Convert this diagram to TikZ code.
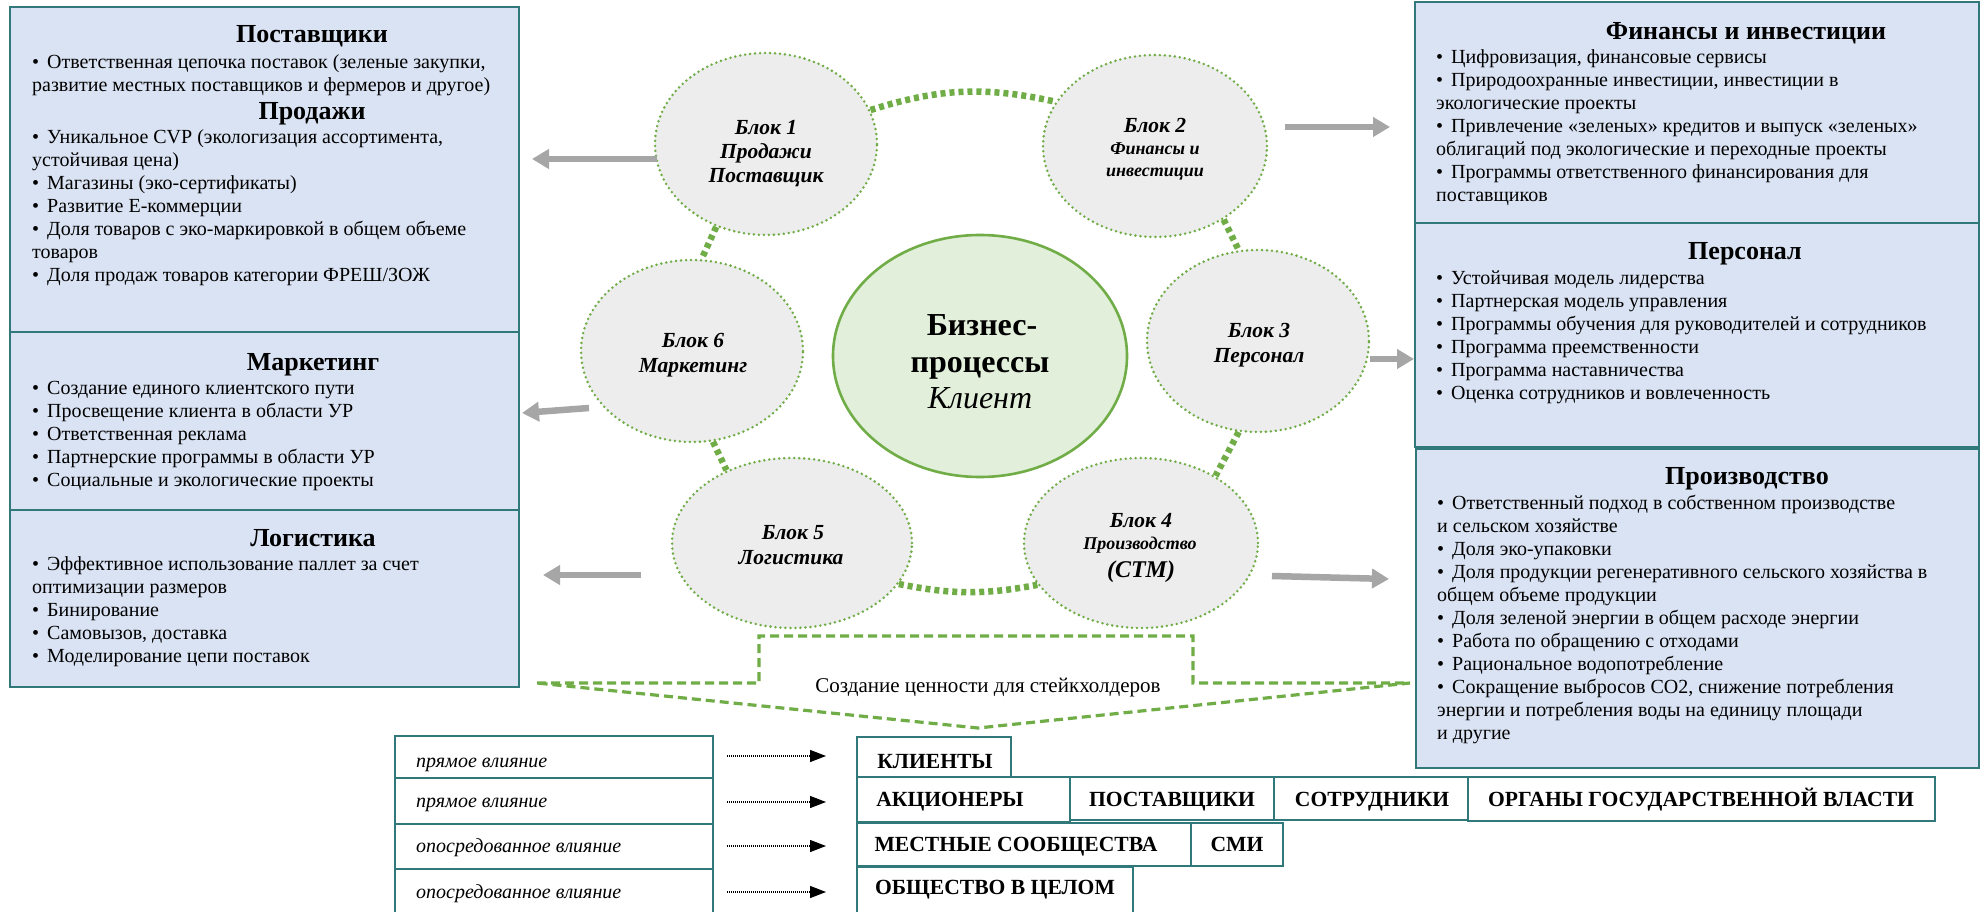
\documentclass[tikz,border=0pt]{standalone}
\usepackage{fontspec}
\setmainfont{Liberation Serif}
\usetikzlibrary{shapes.geometric,arrows.meta,fit}
\definecolor{boxfill}{HTML}{DAE3F3}
\definecolor{boxline}{HTML}{31787A}
\definecolor{grn}{HTML}{70AD47}
\definecolor{ellfill}{HTML}{EDEDED}
\definecolor{corefill}{HTML}{E2EFDA}
\definecolor{arrgray}{HTML}{A6A6A6}
\newcommand{\bul}{\textbullet\hspace{8pt}}
\begin{document}
\begin{tikzpicture}[x=1pt,y=-1pt,
  bluebox/.style={rectangle, draw=boxline, fill=boxfill, line width=2.2pt, inner sep=0pt},
  tabbox/.style={rectangle, draw=boxline, fill=white, line width=2pt, inner sep=0pt},
  blk/.style={ellipse, draw=grn, fill=ellfill, line width=2.8pt, dash pattern=on 0pt off 5pt, line cap=round, inner sep=0pt},
  core/.style={ellipse, draw=grn, fill=corefill, line width=2.6pt, inner sep=0pt},
  gconn/.style={draw=grn, line width=6.5pt, dash pattern=on 5pt off 4pt},
  garrow/.style={draw=arrgray, line width=6.5pt, -{Triangle[length=17pt,width=19pt]}},
  brk/.style={draw=grn, line width=3.2pt, dash pattern=on 9pt off 5pt},
  sarr/.style={draw=black, line width=1.3pt, dash pattern=on 1pt off 1pt, -{Triangle[length=16pt,width=12pt]}},
  head/.style={anchor=base, inner sep=0pt, font=\fontsize{26}{30}\selectfont\bfseries},
  body/.style={anchor=north west, inner sep=0pt, align=left, font=\fontsize{20}{23}\selectfont},
  blkt/.style={anchor=base, inner sep=0pt, font=\fontsize{21.5}{25}\selectfont\bfseries\itshape},
  blks/.style={anchor=base, inner sep=0pt, font=\fontsize{18}{22}\selectfont\bfseries\itshape},
  stk/.style={anchor=base, inner sep=0pt, font=\fontsize{21.6}{25}\selectfont\bfseries},
  infl/.style={anchor=base west, inner sep=0pt, font=\fontsize{20}{24}\selectfont\itshape},
  note/.style={anchor=base, inner sep=0pt, font=\fontsize{21}{25}\selectfont}
]
\useasboundingbox (0,0) rectangle (1982,912);
\fill[white] (0,0) rectangle (1982,912);

% ---------- left boxes ----------
\node[bluebox, fit={(10,7)(519,332)}] (boxA) {};
\node[bluebox, fit={(10,332)(519,510)}] (boxB) {};
\node[bluebox, fit={(10,510)(519,687)}] (boxC) {};
\node[head] (hA1) at (312,42.5) {Поставщики};
\node[body] (tA1) at (32,51.9) {\strut\bul Ответственная цепочка поставок (зеленые закупки,\\развитие местных поставщиков и фермеров и другое)};
\node[head] (hA2) at (312,119.5) {Продажи};
\node[body] (tA2) at (32,126.9) {\strut\bul Уникальное CVP (экологизация ассортимента,\\устойчивая цена)\\\bul Магазины (эко-сертификаты)\\\bul Развитие Е-коммерции\\\bul Доля товаров с эко-маркировкой в общем объеме\\товаров\\\bul Доля продаж товаров категории ФРЕШ/ЗОЖ};
\node[head] (hB) at (313,370) {Маркетинг};
\node[body] (tB) at (32,377.9) {\strut\bul Создание единого клиентского пути\\\bul Просвещение клиента в области УР\\\bul Ответственная реклама\\\bul Партнерские программы в области УР\\\bul Социальные и экологические проекты};
\node[head] (hC) at (313,546) {Логистика};
\node[body] (tC) at (32,553.9) {\strut\bul Эффективное использование паллет за счет\\оптимизации размеров\\\bul Бинирование\\\bul Самовызов, доставка\\\bul Моделирование цепи поставок};

% ---------- right boxes ----------
\node[bluebox, fit={(1415,2)(1979,223)}] (boxD) {};
\node[bluebox, fit={(1415,223)(1979,447)}] (boxE) {};
\node[bluebox, fit={(1416,449)(1979,768)}] (boxF) {};
\node[head] (hD) at (1746,39.5) {Финансы и инвестиции};
\node[body] (tD) at (1436,46.9) {\strut\bul Цифровизация, финансовые сервисы\\\bul Природоохранные инвестиции, инвестиции в\\экологические проекты\\\bul Привлечение «зеленых» кредитов и выпуск «зеленых»\\облигаций под экологические и переходные проекты\\\bul Программы ответственного финансирования для\\поставщиков};
\node[head] (hE) at (1745,260) {Персонал};
\node[body] (tE) at (1436,267.9) {\strut\bul Устойчивая модель лидерства\\\bul Партнерская модель управления\\\bul Программы обучения для руководителей и сотрудников\\\bul Программа преемственности\\\bul Программа наставничества\\\bul Оценка сотрудников и вовлеченность};
\node[head] (hF) at (1747,484.5) {Производство};
\node[body] (tF) at (1437,492.9) {\strut\bul Ответственный подход в собственном производстве\\и сельском хозяйстве\\\bul Доля эко-упаковки\\\bul Доля продукции регенеративного сельского хозяйства в\\общем объеме продукции\\\bul Доля зеленой энергии в общем расходе энергии\\\bul Работа по обращению с отходами\\\bul Рациональное водопотребление\\\bul Сокращение выбросов CO2, снижение потребления\\энергии и потребления воды на единицу площади\\и другие};

% ---------- ellipses ----------
\node[blk, minimum width=222pt, minimum height=182pt] (b1) at (766,144) {};
\node[blk, minimum width=224pt, minimum height=182pt] (b2) at (1155,146) {};
\node[blk, minimum width=222pt, minimum height=182pt] (b6) at (692,351) {};
\node[blk, minimum width=222pt, minimum height=182pt] (b3) at (1258,341) {};
\node[core, minimum width=294pt, minimum height=242pt] (core) at (980,356) {};
\node[blk, minimum width=240pt, minimum height=170pt] (b5) at (792,543) {};
\node[blk, minimum width=234pt, minimum height=170pt] (b4) at (1141,543) {};

\node[blkt] (t1a) at (766,135) {Блок 1};
\node[blkt] (t1b) at (766,159) {Продажи};
\node[blkt] (t1c) at (766,183) {Поставщик};
\node[blkt] (t2a) at (1155,133) {Блок 2};
\node[blks] (t2b) at (1155,155) {Финансы и};
\node[blks] (t2c) at (1155,177) {инвестиции};
\node[blkt] (t6a) at (693,347) {Блок 6};
\node[blkt] (t6b) at (693,372) {Маркетинг};
\node[blkt] (t3a) at (1259,337) {Блок 3};
\node[blkt] (t3b) at (1259,362) {Персонал};
\node[blkt] (t5a) at (793,539) {Блок 5};
\node[blkt] (t5b) at (791,564) {Логистика};
\node[blkt] (t4a) at (1141,527) {Блок 4};
\node[blks] (t4b) at (1140,549) {Производство};
\node[anchor=base, inner sep=0pt, font=\fontsize{24}{28}\selectfont\bfseries\itshape] (t4c) at (1141,577) {(СТМ)};
\node[anchor=base, inner sep=0pt, font=\fontsize{32}{37}\selectfont\bfseries] (tc1) at (982,335) {Бизнес-};
\node[anchor=base, inner sep=0pt, font=\fontsize{32}{37}\selectfont\bfseries] (tc2) at (980,372) {процессы};
\node[anchor=base, inner sep=0pt, font=\fontsize{32}{37}\selectfont\itshape] (tc3) at (980,408) {Клиент};

% ---------- green links ----------
\draw[gconn] (b1.18) to[bend left=15] (b2.156);
\draw[gconn] (b1.239) -- (b6.84);
\draw[gconn] (b2.-47) -- (b3.102);
\draw[gconn] (b6.-77) -- (b5.132);
\draw[gconn] (b3.-102) -- (b4.42);
\draw[gconn] (b5.-21) to[bend right=11] (b4.202);

% ---------- gray arrows ----------
\coordinate (a1s) at (657,159); \coordinate (a1e) at (532,159);
\coordinate (a2s) at (1285,127); \coordinate (a2e) at (1390,127);
\coordinate (a6s) at (589,408); \coordinate (a6e) at (522,413);
\coordinate (a3s) at (1370,359); \coordinate (a3e) at (1414,359);
\coordinate (a5s) at (641,575); \coordinate (a5e) at (543,575);
\coordinate (a4s) at (1272,576); \coordinate (a4e) at (1389,579);
\draw[garrow] (a1s) -- (a1e);
\draw[garrow] (a2s) -- (a2e);
\draw[garrow] (a6s) -- (a6e);
\draw[garrow] (a3s) -- (a3e);
\draw[garrow] (a5s) -- (a5e);
\draw[garrow] (a4s) -- (a4e);

% ---------- bracket ----------
\coordinate (k1) at (537,683); \coordinate (k2) at (759,683);
\coordinate (k3) at (759,636); \coordinate (k4) at (1193,636);
\coordinate (k5) at (1193,683); \coordinate (k6) at (1410,683);
\coordinate (k7) at (978,728);
\draw[brk] (k1) -- (k2) -- (k3) -- (k4) -- (k5) -- (k6) -- (k7) -- cycle;
\node[note] (val) at (988,692) {Создание ценности для стейкхолдеров};

% ---------- table ----------
\node[tabbox, fit={(395,736)(713,778)}] (l1) {};
\node[tabbox, fit={(395,778)(713,824)}] (l2) {};
\node[tabbox, fit={(395,824)(713,869)}] (l3) {};
\node[tabbox, fit={(395,869)(713,918)}] (l4) {};
\node[infl] (il1) at (416,767) {прямое влияние};
\node[infl] (il2) at (416,807) {прямое влияние};
\node[infl] (il3) at (416,852) {опосредованное влияние};
\node[infl] (il4) at (416,898) {опосредованное влияние};

\node[tabbox, fit={(857,737)(1011,777)}] (r1) {};
\node[tabbox, fit={(857,777)(1070,822)}] (r2a) {};
\node[tabbox, fit={(1070,777)(1274,820)}] (r2b) {};
\node[tabbox, fit={(1274,777)(1468,820)}] (r2c) {};
\node[tabbox, fit={(1468,777)(1935,821)}] (r2d) {};
\node[tabbox, fit={(857,823)(1191,866)}] (r3a) {};
\node[tabbox, fit={(1191,823)(1283,866)}] (r3b) {};
\node[tabbox, fit={(857,867)(1133,918)}] (r4) {};
\node[stk] (sk1) at (935,768) {КЛИЕНТЫ};
\node[stk] (sk2) at (950,806.5) {АКЦИОНЕРЫ};
\node[stk] (sk3) at (1172,806.5) {ПОСТАВЩИКИ};
\node[stk] (sk4) at (1372,806.5) {СОТРУДНИКИ};
\node[stk] (sk5) at (1701,806.5) {ОРГАНЫ ГОСУДАРСТВЕННОЙ ВЛАСТИ};
\node[stk] (sk6) at (1016,851.5) {МЕСТНЫЕ СООБЩЕСТВА};
\node[stk] (sk7) at (1237,851.5) {СМИ};
\node[stk] (sk8) at (995,894.5) {ОБЩЕСТВО В ЦЕЛОМ};

\coordinate (s1a) at (727,756); \coordinate (s1b) at (826,756);
\coordinate (s2a) at (727,802); \coordinate (s2b) at (826,802);
\coordinate (s3a) at (727,846); \coordinate (s3b) at (826,846);
\coordinate (s4a) at (727,892); \coordinate (s4b) at (826,892);
\draw[sarr] (s1a) -- (s1b);
\draw[sarr] (s2a) -- (s2b);
\draw[sarr] (s3a) -- (s3b);
\draw[sarr] (s4a) -- (s4b);
\end{tikzpicture}
\end{document}
